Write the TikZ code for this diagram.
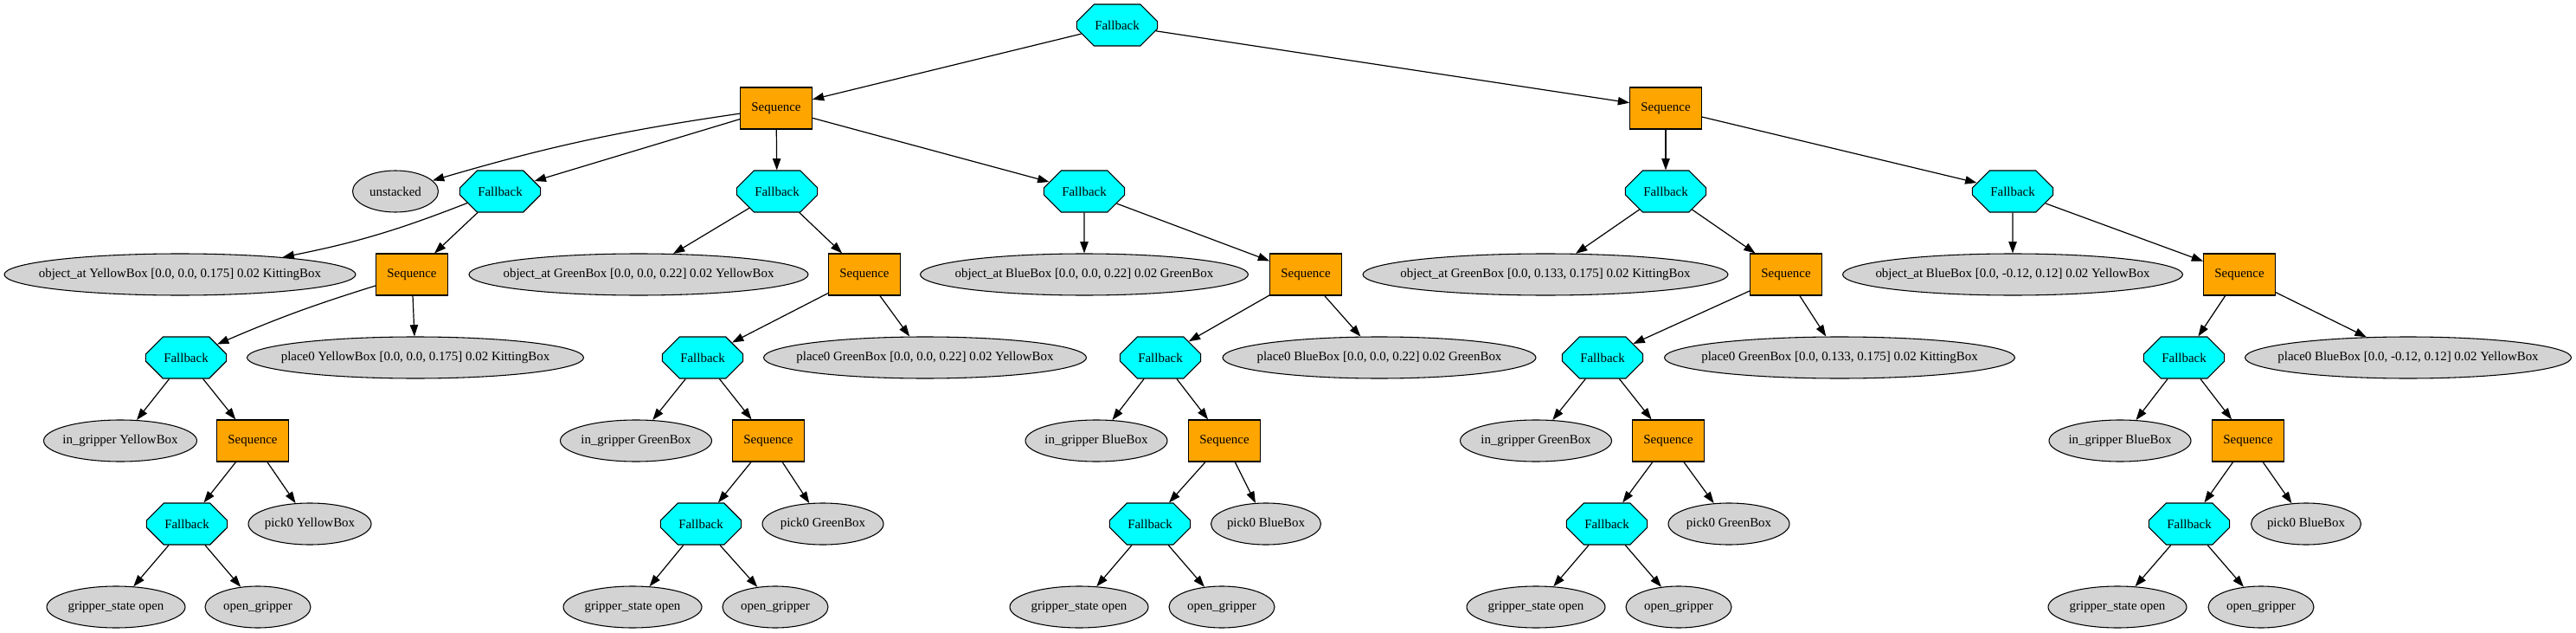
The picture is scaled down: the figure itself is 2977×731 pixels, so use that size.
\documentclass[tikz,border=0pt]{standalone}
\usepackage{fontspec}
\setmainfont{Liberation Serif}
\usetikzlibrary{shapes.geometric,shapes.misc,arrows.meta}
\definecolor{fbcyan}{RGB}{0,255,255}
\definecolor{seqorange}{RGB}{255,165,0}
\definecolor{condgray}{RGB}{211,211,211}
\begin{document}
\begin{tikzpicture}[x=0.75pt, y=0.75pt,
		every node/.style={font=\fontsize{11.2}{13}\selectfont, line width=0.8pt},
		fallback/.style={chamfered rectangle, chamfered rectangle xsep=20pt, chamfered rectangle ysep=11pt, draw, fill=fbcyan, minimum width=70pt, minimum height=36pt, inner sep=0pt},
		sequence/.style={rectangle, draw, fill=seqorange, minimum width=62pt, minimum height=36pt, inner sep=0pt},
		cond/.style={ellipse, draw, fill=condgray, minimum height=36pt, minimum width=#1*0.75pt, inner sep=0pt,
			execute at begin node={\hbox to 0pt\bgroup\hss}, execute at end node={\hss\egroup}},
		link/.style={-{Triangle[length=10pt,width=7pt]}, line width=0.9pt}]
		\useasboundingbox (0,0) rectangle (2977,-731);
		
		\node[fallback] (root) at (1291,-29) {Fallback};
		\node[sequence] (seqL) at (897,-125) {Sequence};
		\node[sequence] (seqR) at (1925,-125) {Sequence};
		
		\node[cond=99] (unst) at (457,-221) {unstacked};
		\foreach \i/\x in {1/578, 2/898, 3/1253, 4/1925, 5/2326}
			\node[fallback] (fb\i) at (\x,-221) {Fallback};
		
		\node[cond=406] (oa1) at (208,-317) {object\_at YellowBox [0.0, 0.0, 0.175] 0.02 KittingBox};
		\node[cond=392] (oa2) at (738,-317) {object\_at GreenBox [0.0, 0.0, 0.22] 0.02 YellowBox};
		\node[cond=379] (oa3) at (1253,-317) {object\_at BlueBox [0.0, 0.0, 0.22] 0.02 GreenBox};
		\node[cond=422] (oa4) at (1786,-317) {object\_at GreenBox [0.0, 0.133, 0.175] 0.02 KittingBox};
		\node[cond=393] (oa5) at (2326,-317) {object\_at BlueBox [0.0, -0.12, 0.12] 0.02 YellowBox};
		\foreach \i/\x in {1/476, 2/999, 3/1509, 4/2064, 5/2588}
			\node[sequence] (sq\i) at (\x,-317) {Sequence};
		
		\foreach \i/\x in {1/215, 2/812, 3/1341, 4/1852, 5/2524}
			\node[fallback] (f\i) at (\x,-413) {Fallback};
		\node[cond=389] (pl1) at (480,-413) {place0 YellowBox [0.0, 0.0, 0.175] 0.02 KittingBox};
		\node[cond=373] (pl2) at (1069,-413) {place0 GreenBox [0.0, 0.0, 0.22] 0.02 YellowBox};
		\node[cond=362] (pl3) at (1594,-413) {place0 BlueBox [0.0, 0.0, 0.22] 0.02 GreenBox};
		\node[cond=405] (pl4) at (2126,-413) {place0 GreenBox [0.0, 0.133, 0.175] 0.02 KittingBox};
		\node[cond=377] (pl5) at (2783,-413) {place0 BlueBox [0.0, -0.12, 0.12] 0.02 YellowBox};
		
		% in_gripper, sequence, pick0 per box
		\foreach \i/\gx/\w/\obj in {1/139/177/YellowBox, 2/735/175/GreenBox, 3/1267/164/BlueBox, 4/1775/175/GreenBox, 5/2450/164/BlueBox}
			\node[cond=\w] (ig\i) at (\gx,-509) {in\_gripper \obj};
		\foreach \i/\sx in {1/292, 2/888, 3/1415, 4/1928, 5/2598}
			\node[sequence] (s\i) at (\sx,-509) {Sequence};
		\foreach \i/\fx/\px/\w/\obj in {1/216/358/142/YellowBox, 2/810/951/140/GreenBox, 3/1329/1463/127/BlueBox, 4/1857/1998/140/GreenBox, 5/2530/2665/127/BlueBox}
		{
			\node[fallback] (ff\i) at (\fx,-605) {Fallback};
			\node[cond=\w] (pk\i) at (\px,-605) {pick0 \obj};
		}
		\foreach \i/\gx/\ox in {1/134/298, 2/731/896, 3/1247/1412, 4/1775/1940, 5/2447/2613}
		{
			\node[cond=160] (gs\i) at (\gx,-701) {gripper\_state open};
			\node[cond=122] (og\i) at (\ox,-701) {open\_gripper};
		}
		
		% edges
		\foreach \a/\b in {root/seqL, root/seqR, seqL/fb1, seqL/fb2, seqL/fb3, seqR/fb4, seqR/fb5}
			\draw[link] (\a) -- (\b);
		\draw[link] (seqL) to[bend right=4] (unst);
		\draw[link] (fb1) to[bend left=5] (oa1);
		\draw[link] (sq1) to[bend right=3] (f1);
		\foreach \i in {2,...,5}
		{
			\draw[link] (fb\i) -- (oa\i);
			\draw[link] (sq\i) -- (f\i);
		}
		\foreach \i in {1,...,5}
		{
			\draw[link] (fb\i) -- (sq\i);
			\draw[link] (sq\i) -- (pl\i);
			\draw[link] (f\i) -- (ig\i);
			\draw[link] (f\i) -- (s\i);
			\draw[link] (s\i) -- (ff\i);
			\draw[link] (s\i) -- (pk\i);
			\draw[link] (ff\i) -- (gs\i);
			\draw[link] (ff\i) -- (og\i);
		}
\end{tikzpicture}
\end{document}
